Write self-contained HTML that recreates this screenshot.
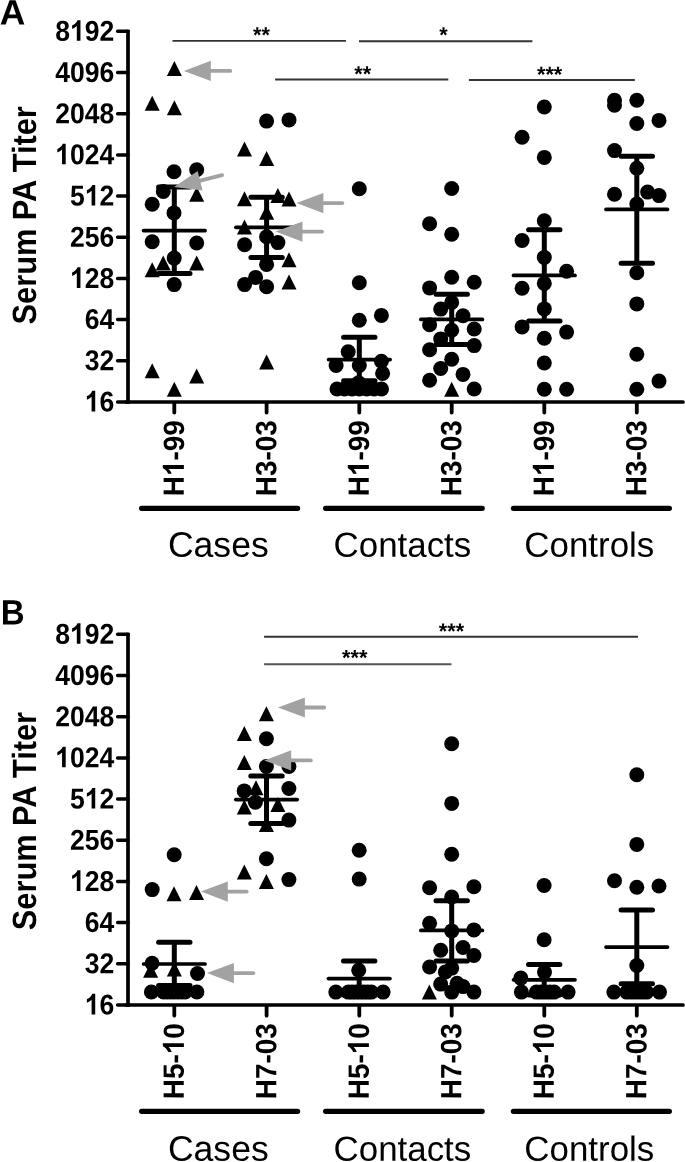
<!DOCTYPE html>
<html><head><meta charset="utf-8"><title>Figure</title>
<style>html,body{margin:0;padding:0;background:#fff}svg{display:block;will-change:transform;filter:grayscale(1)}text{font-family:"Liberation Sans",sans-serif;fill:#000}</style>
</head><body>
<svg width="685" height="1162" viewBox="0 0 685 1162">
<rect width="685" height="1162" fill="#fff"/>
<text transform="translate(-0.2 24.5) rotate(0.05) scale(1.0 1)" font-weight="bold" font-size="35.4">A</text>
<g stroke="#000" stroke-width="3.7" fill="none">
<path d="M128 29.7V403.9"/>
<path d="M126.3 402.0H683.0" stroke-linecap="round"/>
<path d="M117.6 31.3H128M117.6 72.5H128M117.6 113.7H128M117.6 154.9H128M117.6 196.1H128M117.6 237.2H128M117.6 278.4H128M117.6 319.6H128M117.6 360.8H128M117.6 402.0H128" stroke-width="3.5" stroke-linecap="round"/>
<path d="M174.3 403.5V412.6M266.6 403.5V412.6M359.3 403.5V412.6M451.7 403.5V412.6M544.3 403.5V412.6M636.8 403.5V412.6" stroke-width="3.8" stroke-linecap="round"/>
</g>
<g transform="translate(114.30 40.80) rotate(0.05) scale(0.925 1)" font-weight="bold" font-size="28.7">
<text x="-63.85 -31.92 -15.96">892</text>
<path transform="translate(-47.88 0) scale(0.01401 -0.01401)" d="M806 0H525V1059Q371 915 162 846V1101Q272 1137 401 1237.5Q530 1338 578 1472H806Z"/>
</g>
<g transform="translate(114.30 81.99) rotate(0.05) scale(0.925 1)" font-weight="bold" font-size="28.7">
<text x="-63.85 -47.88 -31.92 -15.96">4096</text>
</g>
<g transform="translate(114.30 123.18) rotate(0.05) scale(0.925 1)" font-weight="bold" font-size="28.7">
<text x="-63.85 -47.88 -31.92 -15.96">2048</text>
</g>
<g transform="translate(114.30 164.37) rotate(0.05) scale(0.925 1)" font-weight="bold" font-size="28.7">
<text x="-47.88 -31.92 -15.96">024</text>
<path transform="translate(-63.85 0) scale(0.01401 -0.01401)" d="M806 0H525V1059Q371 915 162 846V1101Q272 1137 401 1237.5Q530 1338 578 1472H806Z"/>
</g>
<g transform="translate(114.30 205.56) rotate(0.05) scale(0.925 1)" font-weight="bold" font-size="28.7">
<text x="-47.88 -15.96">52</text>
<path transform="translate(-31.92 0) scale(0.01401 -0.01401)" d="M806 0H525V1059Q371 915 162 846V1101Q272 1137 401 1237.5Q530 1338 578 1472H806Z"/>
</g>
<g transform="translate(114.30 246.75) rotate(0.05) scale(0.925 1)" font-weight="bold" font-size="28.7">
<text x="-47.88 -31.92 -15.96">256</text>
</g>
<g transform="translate(114.30 287.94) rotate(0.05) scale(0.925 1)" font-weight="bold" font-size="28.7">
<text x="-31.92 -15.96">28</text>
<path transform="translate(-47.88 0) scale(0.01401 -0.01401)" d="M806 0H525V1059Q371 915 162 846V1101Q272 1137 401 1237.5Q530 1338 578 1472H806Z"/>
</g>
<g transform="translate(114.30 329.13) rotate(0.05) scale(0.925 1)" font-weight="bold" font-size="28.7">
<text x="-31.92 -15.96">64</text>
</g>
<g transform="translate(114.30 370.32) rotate(0.05) scale(0.925 1)" font-weight="bold" font-size="28.7">
<text x="-31.92 -15.96">32</text>
</g>
<g transform="translate(114.30 411.51) rotate(0.05) scale(0.925 1)" font-weight="bold" font-size="28.7">
<text x="-15.96">6</text>
<path transform="translate(-31.92 0) scale(0.01401 -0.01401)" d="M806 0H525V1059Q371 915 162 846V1101Q272 1137 401 1237.5Q530 1338 578 1472H806Z"/>
</g>
<text transform="translate(36.0 215.3) rotate(-89.95) scale(0.916 1)" font-weight="bold" font-size="33.6" text-anchor="middle">Serum PA Titer</text>
<g transform="translate(183.85 496.30) rotate(-89.95) scale(0.955 1)" font-weight="bold" font-size="29.3">
<text x="0.00 37.45 47.21 63.51">H-99</text>
<path transform="translate(21.16 0) scale(0.01431 -0.01431)" d="M806 0H525V1059Q371 915 162 846V1101Q272 1137 401 1237.5Q530 1338 578 1472H806Z"/>
</g>
<g transform="translate(276.15 496.30) rotate(-89.95) scale(0.955 1)" font-weight="bold" font-size="29.3">
<text x="0.00 21.16 37.45 47.21 63.51">H3-03</text>
</g>
<g transform="translate(368.85 496.30) rotate(-89.95) scale(0.955 1)" font-weight="bold" font-size="29.3">
<text x="0.00 37.45 47.21 63.51">H-99</text>
<path transform="translate(21.16 0) scale(0.01431 -0.01431)" d="M806 0H525V1059Q371 915 162 846V1101Q272 1137 401 1237.5Q530 1338 578 1472H806Z"/>
</g>
<g transform="translate(461.25 496.30) rotate(-89.95) scale(0.955 1)" font-weight="bold" font-size="29.3">
<text x="0.00 21.16 37.45 47.21 63.51">H3-03</text>
</g>
<g transform="translate(553.85 496.30) rotate(-89.95) scale(0.955 1)" font-weight="bold" font-size="29.3">
<text x="0.00 37.45 47.21 63.51">H-99</text>
<path transform="translate(21.16 0) scale(0.01431 -0.01431)" d="M806 0H525V1059Q371 915 162 846V1101Q272 1137 401 1237.5Q530 1338 578 1472H806Z"/>
</g>
<g transform="translate(646.35 496.30) rotate(-89.95) scale(0.955 1)" font-weight="bold" font-size="29.3">
<text x="0.00 21.16 37.45 47.21 63.51">H3-03</text>
</g>
<path d="M141.6 508.3H297.6M325.6 508.3H482.2M513.4 508.3H669.4" stroke="#000" stroke-width="5.2" stroke-linecap="round" fill="none"/>
<g text-anchor="middle">
<text transform="translate(218.3 556.7) rotate(0.05)" font-size="35.6">Cases</text>
<text transform="translate(402.4 556.7) rotate(0.05)" font-size="34.9">Contacts</text>
<text transform="translate(589.3 556.7) rotate(0.05)" font-size="34.9">Controls</text>
</g>
<path d="M172.5 40.9H346.0" stroke="#333" stroke-width="1.9" fill="none"/>
<text transform="translate(261.5 42.2) rotate(0.05)" font-weight="bold" font-size="21.7" text-anchor="middle">**</text>
<path d="M359.0 41.3H532.4" stroke="#333" stroke-width="1.9" fill="none"/>
<text transform="translate(443.5 42.2) rotate(0.05)" font-weight="bold" font-size="21.7" text-anchor="middle">*</text>
<path d="M275.1 79.5H448.3" stroke="#333" stroke-width="1.9" fill="none"/>
<text transform="translate(362.7 81.2) rotate(0.05)" font-weight="bold" font-size="21.7" text-anchor="middle">**</text>
<path d="M468.9 80.0H634.8" stroke="#333" stroke-width="1.9" fill="none"/>
<text transform="translate(549.6 81.8) rotate(0.05)" font-weight="bold" font-size="21.7" text-anchor="middle">***</text>
<g fill="#000">
<circle cx="174.0" cy="171.8" r="7.5"/>
<circle cx="196.7" cy="169.8" r="7.5"/>
<circle cx="163.3" cy="191.4" r="7.5"/>
<circle cx="152.2" cy="204.2" r="7.5"/>
<circle cx="174.0" cy="212.9" r="7.5"/>
<circle cx="152.2" cy="241.8" r="7.5"/>
<circle cx="196.7" cy="243.0" r="7.5"/>
<circle cx="174.2" cy="258.1" r="7.5"/>
<circle cx="174.2" cy="284.6" r="7.5"/>
<circle cx="266.6" cy="121.1" r="7.5"/>
<circle cx="289.0" cy="119.9" r="7.5"/>
<circle cx="266.6" cy="236.8" r="7.5"/>
<circle cx="244.6" cy="244.8" r="7.5"/>
<circle cx="277.9" cy="242.6" r="7.5"/>
<circle cx="266.6" cy="264.4" r="7.5"/>
<circle cx="255.6" cy="277.4" r="7.5"/>
<circle cx="244.6" cy="284.6" r="7.5"/>
<circle cx="266.6" cy="286.8" r="7.5"/>
<circle cx="359.3" cy="188.7" r="7.5"/>
<circle cx="359.3" cy="282.7" r="7.5"/>
<circle cx="359.3" cy="320.3" r="7.5"/>
<circle cx="381.4" cy="315.4" r="7.5"/>
<circle cx="348.2" cy="351.7" r="7.5"/>
<circle cx="336.1" cy="365.5" r="7.5"/>
<circle cx="359.3" cy="365.5" r="7.5"/>
<circle cx="381.4" cy="361.3" r="7.5"/>
<circle cx="382.6" cy="373.4" r="7.5"/>
<circle cx="358.6" cy="382.8" r="7.5"/>
<circle cx="337.0" cy="389.0" r="7.5"/>
<circle cx="344.5" cy="389.0" r="7.5"/>
<circle cx="352.0" cy="389.0" r="7.5"/>
<circle cx="359.3" cy="389.0" r="7.5"/>
<circle cx="366.7" cy="389.0" r="7.5"/>
<circle cx="374.1" cy="389.0" r="7.5"/>
<circle cx="381.5" cy="389.0" r="7.5"/>
<circle cx="451.7" cy="188.5" r="7.5"/>
<circle cx="429.6" cy="223.8" r="7.5"/>
<circle cx="451.7" cy="234.2" r="7.5"/>
<circle cx="451.7" cy="277.2" r="7.5"/>
<circle cx="474.2" cy="282.2" r="7.5"/>
<circle cx="429.6" cy="287.9" r="7.5"/>
<circle cx="451.7" cy="302.4" r="7.5"/>
<circle cx="440.7" cy="309.1" r="7.5"/>
<circle cx="463.0" cy="315.7" r="7.5"/>
<circle cx="429.6" cy="324.7" r="7.5"/>
<circle cx="451.7" cy="330.3" r="7.5"/>
<circle cx="474.2" cy="329.0" r="7.5"/>
<circle cx="440.7" cy="338.9" r="7.5"/>
<circle cx="474.2" cy="345.6" r="7.5"/>
<circle cx="429.6" cy="349.8" r="7.5"/>
<circle cx="451.7" cy="359.3" r="7.5"/>
<circle cx="440.7" cy="368.5" r="7.5"/>
<circle cx="463.0" cy="374.4" r="7.5"/>
<circle cx="429.6" cy="380.2" r="7.5"/>
<circle cx="474.2" cy="389.0" r="7.5"/>
<circle cx="544.3" cy="107.0" r="7.5"/>
<circle cx="522.1" cy="137.2" r="7.5"/>
<circle cx="544.3" cy="157.4" r="7.5"/>
<circle cx="544.3" cy="220.8" r="7.5"/>
<circle cx="522.1" cy="240.5" r="7.5"/>
<circle cx="544.3" cy="257.4" r="7.5"/>
<circle cx="566.6" cy="271.2" r="7.5"/>
<circle cx="544.3" cy="283.4" r="7.5"/>
<circle cx="522.1" cy="288.3" r="7.5"/>
<circle cx="544.3" cy="308.9" r="7.5"/>
<circle cx="522.1" cy="326.9" r="7.5"/>
<circle cx="566.6" cy="332.1" r="7.5"/>
<circle cx="544.3" cy="338.3" r="7.5"/>
<circle cx="544.3" cy="363.0" r="7.5"/>
<circle cx="544.3" cy="389.2" r="7.5"/>
<circle cx="566.6" cy="389.2" r="7.5"/>
<circle cx="614.5" cy="100.3" r="7.5"/>
<circle cx="614.5" cy="105.3" r="7.5"/>
<circle cx="636.8" cy="100.3" r="7.5"/>
<circle cx="636.8" cy="123.5" r="7.5"/>
<circle cx="659.0" cy="120.4" r="7.5"/>
<circle cx="614.5" cy="150.6" r="7.5"/>
<circle cx="636.8" cy="168.3" r="7.5"/>
<circle cx="614.5" cy="194.3" r="7.5"/>
<circle cx="647.6" cy="192.1" r="7.5"/>
<circle cx="659.0" cy="195.6" r="7.5"/>
<circle cx="636.8" cy="204.0" r="7.5"/>
<circle cx="636.8" cy="272.8" r="7.5"/>
<circle cx="636.8" cy="303.9" r="7.5"/>
<circle cx="636.8" cy="354.3" r="7.5"/>
<circle cx="659.0" cy="381.1" r="7.5"/>
<circle cx="636.8" cy="389.2" r="7.5"/>
<path d="M174.4 61.0L181.9 76.0L166.9 76.0Z"/>
<path d="M152.2 95.7L159.7 110.7L144.7 110.7Z"/>
<path d="M174.4 100.3L181.9 115.3L166.9 115.3Z"/>
<path d="M196.7 186.7L204.2 201.7L189.2 201.7Z"/>
<path d="M152.2 262.3L159.7 277.3L144.7 277.3Z"/>
<path d="M163.2 255.4L170.7 270.4L155.7 270.4Z"/>
<path d="M196.7 255.5L204.2 270.5L189.2 270.5Z"/>
<path d="M152.2 363.2L159.7 378.2L144.7 378.2Z"/>
<path d="M174.3 381.7L181.8 396.7L166.8 396.7Z"/>
<path d="M196.7 368.6L204.2 383.6L189.2 383.6Z"/>
<path d="M244.5 141.4L252.0 156.4L237.0 156.4Z"/>
<path d="M266.6 150.9L274.1 165.9L259.1 165.9Z"/>
<path d="M244.5 191.2L252.0 206.2L237.0 206.2Z"/>
<path d="M277.9 188.1L285.4 203.1L270.4 203.1Z"/>
<path d="M289.0 191.4L296.5 206.4L281.5 206.4Z"/>
<path d="M266.6 204.7L274.1 219.7L259.1 219.7Z"/>
<path d="M244.5 219.5L252.0 234.5L237.0 234.5Z"/>
<path d="M289.0 252.2L296.5 267.2L281.5 267.2Z"/>
<path d="M289.0 274.5L296.5 289.5L281.5 289.5Z"/>
<path d="M266.6 354.4L274.1 369.4L259.1 369.4Z"/>
<path d="M451.7 381.8L459.2 396.8L444.2 396.8Z"/>
</g>
<g stroke="#000" stroke-linecap="round" fill="none">
<path d="M174.3 186.9V273.4" stroke-width="5.0" stroke-linecap="butt"/>
<path d="M158.6 186.9H190.0M158.6 273.4H190.0" stroke-width="5.0"/>
<path d="M143.6 230.6H205.1" stroke-width="3.7"/>
</g>
<g stroke="#000" stroke-linecap="round" fill="none">
<path d="M266.6 197.3V257.4" stroke-width="5.0" stroke-linecap="butt"/>
<path d="M250.9 197.3H282.3M250.9 257.4H282.3" stroke-width="5.0"/>
<path d="M235.9 227.3H297.4" stroke-width="3.7"/>
</g>
<g stroke="#000" stroke-linecap="round" fill="none">
<path d="M359.3 337.3V380.8" stroke-width="5.0" stroke-linecap="butt"/>
<path d="M343.6 337.3H375.0M343.6 380.8H375.0" stroke-width="5.0"/>
<path d="M328.6 359.6H390.1" stroke-width="3.7"/>
</g>
<g stroke="#000" stroke-linecap="round" fill="none">
<path d="M451.7 294.3V344.5" stroke-width="5.0" stroke-linecap="butt"/>
<path d="M436.0 294.3H467.4M436.0 344.5H467.4" stroke-width="5.0"/>
<path d="M420.9 319.4H482.4" stroke-width="3.7"/>
</g>
<g stroke="#000" stroke-linecap="round" fill="none">
<path d="M544.3 229.8V321.0" stroke-width="5.0" stroke-linecap="butt"/>
<path d="M528.6 229.8H560.0M528.6 321.0H560.0" stroke-width="5.0"/>
<path d="M513.5 275.4H575.0" stroke-width="3.7"/>
</g>
<g stroke="#000" stroke-linecap="round" fill="none">
<path d="M636.8 156.2V263.3" stroke-width="5.0" stroke-linecap="butt"/>
<path d="M621.1 156.2H652.5M621.1 263.3H652.5" stroke-width="5.0"/>
<path d="M606.0 209.4H667.5" stroke-width="3.7"/>
</g>
<path d="M183.9 70.9L210.8 81.0L210.8 60.8Z" fill="#a2a2a2"/>
<path d="M209.8 70.9L230.3 70.9" stroke="#a2a2a2" stroke-width="3.8" stroke-linecap="round" fill="none"/>
<path d="M174.0 187.1L202.6 190.5L197.7 170.9Z" fill="#a2a2a2"/>
<path d="M199.2 180.9L222.1 175.2" stroke="#a2a2a2" stroke-width="3.8" stroke-linecap="round" fill="none"/>
<path d="M296.5 203.1L323.4 213.2L323.4 193.0Z" fill="#a2a2a2"/>
<path d="M322.4 203.1L342.4 203.1" stroke="#a2a2a2" stroke-width="3.8" stroke-linecap="round" fill="none"/>
<path d="M275.6 231.6L302.5 241.7L302.5 221.5Z" fill="#a2a2a2"/>
<path d="M301.5 231.6L322.0 231.6" stroke="#a2a2a2" stroke-width="3.8" stroke-linecap="round" fill="none"/>
<text transform="translate(0.65 624.5) rotate(0.05) scale(0.935 1)" font-weight="bold" font-size="35.4">B</text>
<g stroke="#000" stroke-width="3.7" fill="none">
<path d="M128 632.7V1006.9"/>
<path d="M126.3 1005.0H683.0" stroke-linecap="round"/>
<path d="M117.6 634.3H128M117.6 675.5H128M117.6 716.7H128M117.6 757.9H128M117.6 799.1H128M117.6 840.2H128M117.6 881.4H128M117.6 922.6H128M117.6 963.8H128M117.6 1005.0H128" stroke-width="3.5" stroke-linecap="round"/>
<path d="M174.3 1006.5V1015.6M266.6 1006.5V1015.6M359.3 1006.5V1015.6M451.7 1006.5V1015.6M544.3 1006.5V1015.6M636.8 1006.5V1015.6" stroke-width="3.8" stroke-linecap="round"/>
</g>
<g transform="translate(114.30 643.80) rotate(0.05) scale(0.925 1)" font-weight="bold" font-size="28.7">
<text x="-63.85 -31.92 -15.96">892</text>
<path transform="translate(-47.88 0) scale(0.01401 -0.01401)" d="M806 0H525V1059Q371 915 162 846V1101Q272 1137 401 1237.5Q530 1338 578 1472H806Z"/>
</g>
<g transform="translate(114.30 684.99) rotate(0.05) scale(0.925 1)" font-weight="bold" font-size="28.7">
<text x="-63.85 -47.88 -31.92 -15.96">4096</text>
</g>
<g transform="translate(114.30 726.18) rotate(0.05) scale(0.925 1)" font-weight="bold" font-size="28.7">
<text x="-63.85 -47.88 -31.92 -15.96">2048</text>
</g>
<g transform="translate(114.30 767.37) rotate(0.05) scale(0.925 1)" font-weight="bold" font-size="28.7">
<text x="-47.88 -31.92 -15.96">024</text>
<path transform="translate(-63.85 0) scale(0.01401 -0.01401)" d="M806 0H525V1059Q371 915 162 846V1101Q272 1137 401 1237.5Q530 1338 578 1472H806Z"/>
</g>
<g transform="translate(114.30 808.56) rotate(0.05) scale(0.925 1)" font-weight="bold" font-size="28.7">
<text x="-47.88 -15.96">52</text>
<path transform="translate(-31.92 0) scale(0.01401 -0.01401)" d="M806 0H525V1059Q371 915 162 846V1101Q272 1137 401 1237.5Q530 1338 578 1472H806Z"/>
</g>
<g transform="translate(114.30 849.75) rotate(0.05) scale(0.925 1)" font-weight="bold" font-size="28.7">
<text x="-47.88 -31.92 -15.96">256</text>
</g>
<g transform="translate(114.30 890.94) rotate(0.05) scale(0.925 1)" font-weight="bold" font-size="28.7">
<text x="-31.92 -15.96">28</text>
<path transform="translate(-47.88 0) scale(0.01401 -0.01401)" d="M806 0H525V1059Q371 915 162 846V1101Q272 1137 401 1237.5Q530 1338 578 1472H806Z"/>
</g>
<g transform="translate(114.30 932.13) rotate(0.05) scale(0.925 1)" font-weight="bold" font-size="28.7">
<text x="-31.92 -15.96">64</text>
</g>
<g transform="translate(114.30 973.32) rotate(0.05) scale(0.925 1)" font-weight="bold" font-size="28.7">
<text x="-31.92 -15.96">32</text>
</g>
<g transform="translate(114.30 1014.51) rotate(0.05) scale(0.925 1)" font-weight="bold" font-size="28.7">
<text x="-15.96">6</text>
<path transform="translate(-31.92 0) scale(0.01401 -0.01401)" d="M806 0H525V1059Q371 915 162 846V1101Q272 1137 401 1237.5Q530 1338 578 1472H806Z"/>
</g>
<text transform="translate(36.0 821.1) rotate(-89.95) scale(0.916 1)" font-weight="bold" font-size="33.6" text-anchor="middle">Serum PA Titer</text>
<g transform="translate(183.85 1099.30) rotate(-89.95) scale(0.955 1)" font-weight="bold" font-size="29.3">
<text x="0.00 21.16 37.45 63.51">H5-0</text>
<path transform="translate(47.21 0) scale(0.01431 -0.01431)" d="M806 0H525V1059Q371 915 162 846V1101Q272 1137 401 1237.5Q530 1338 578 1472H806Z"/>
</g>
<g transform="translate(276.15 1099.30) rotate(-89.95) scale(0.955 1)" font-weight="bold" font-size="29.3">
<text x="0.00 21.16 37.45 47.21 63.51">H7-03</text>
</g>
<g transform="translate(368.85 1099.30) rotate(-89.95) scale(0.955 1)" font-weight="bold" font-size="29.3">
<text x="0.00 21.16 37.45 63.51">H5-0</text>
<path transform="translate(47.21 0) scale(0.01431 -0.01431)" d="M806 0H525V1059Q371 915 162 846V1101Q272 1137 401 1237.5Q530 1338 578 1472H806Z"/>
</g>
<g transform="translate(461.25 1099.30) rotate(-89.95) scale(0.955 1)" font-weight="bold" font-size="29.3">
<text x="0.00 21.16 37.45 47.21 63.51">H7-03</text>
</g>
<g transform="translate(553.85 1099.30) rotate(-89.95) scale(0.955 1)" font-weight="bold" font-size="29.3">
<text x="0.00 21.16 37.45 63.51">H5-0</text>
<path transform="translate(47.21 0) scale(0.01431 -0.01431)" d="M806 0H525V1059Q371 915 162 846V1101Q272 1137 401 1237.5Q530 1338 578 1472H806Z"/>
</g>
<g transform="translate(646.35 1099.30) rotate(-89.95) scale(0.955 1)" font-weight="bold" font-size="29.3">
<text x="0.00 21.16 37.45 47.21 63.51">H7-03</text>
</g>
<path d="M141.6 1111.3H297.6M325.6 1111.3H482.2M513.4 1111.3H669.4" stroke="#000" stroke-width="5.2" stroke-linecap="round" fill="none"/>
<g text-anchor="middle">
<text transform="translate(218.3 1160.8) rotate(0.05)" font-size="35.6">Cases</text>
<text transform="translate(402.4 1160.8) rotate(0.05)" font-size="34.9">Contacts</text>
<text transform="translate(589.3 1160.8) rotate(0.05)" font-size="34.9">Controls</text>
</g>
<path d="M264.1 636.8H638.0" stroke="#333" stroke-width="1.9" fill="none"/>
<text transform="translate(451.5 638.5) rotate(0.05)" font-weight="bold" font-size="21.7" text-anchor="middle">***</text>
<path d="M264.1 664.3H451.5" stroke="#555" stroke-width="1.9" fill="none"/>
<text transform="translate(354.7 664.9) rotate(0.05)" font-weight="bold" font-size="21.7" text-anchor="middle">***</text>
<g fill="#000">
<circle cx="174.2" cy="854.8" r="7.5"/>
<circle cx="152.2" cy="889.6" r="7.5"/>
<circle cx="152.1" cy="963.3" r="7.5"/>
<circle cx="197.5" cy="973.5" r="7.5"/>
<circle cx="151.4" cy="992.0" r="7.5"/>
<circle cx="163.6" cy="992.0" r="7.5"/>
<circle cx="167.2" cy="992.0" r="7.5"/>
<circle cx="170.8" cy="992.0" r="7.5"/>
<circle cx="174.3" cy="992.0" r="7.5"/>
<circle cx="177.9" cy="992.0" r="7.5"/>
<circle cx="181.5" cy="992.0" r="7.5"/>
<circle cx="185.0" cy="992.0" r="7.5"/>
<circle cx="196.9" cy="992.0" r="7.5"/>
<circle cx="266.4" cy="738.7" r="7.5"/>
<circle cx="266.4" cy="766.5" r="7.5"/>
<circle cx="288.9" cy="766.5" r="7.5"/>
<circle cx="244.2" cy="790.9" r="7.5"/>
<circle cx="288.9" cy="788.5" r="7.5"/>
<circle cx="255.4" cy="802.3" r="7.5"/>
<circle cx="288.9" cy="820.1" r="7.5"/>
<circle cx="266.4" cy="858.7" r="7.5"/>
<circle cx="288.9" cy="879.6" r="7.5"/>
<circle cx="359.2" cy="850.2" r="7.5"/>
<circle cx="359.2" cy="879.1" r="7.5"/>
<circle cx="358.7" cy="970.2" r="7.5"/>
<circle cx="335.8" cy="992.1" r="7.5"/>
<circle cx="348.4" cy="992.1" r="7.5"/>
<circle cx="352.2" cy="992.1" r="7.5"/>
<circle cx="356.0" cy="992.1" r="7.5"/>
<circle cx="359.8" cy="992.1" r="7.5"/>
<circle cx="363.7" cy="992.1" r="7.5"/>
<circle cx="367.5" cy="992.1" r="7.5"/>
<circle cx="371.3" cy="992.1" r="7.5"/>
<circle cx="383.1" cy="992.1" r="7.5"/>
<circle cx="451.7" cy="743.8" r="7.5"/>
<circle cx="451.7" cy="803.4" r="7.5"/>
<circle cx="451.7" cy="854.3" r="7.5"/>
<circle cx="429.6" cy="887.7" r="7.5"/>
<circle cx="473.9" cy="886.8" r="7.5"/>
<circle cx="451.7" cy="897.0" r="7.5"/>
<circle cx="429.6" cy="923.3" r="7.5"/>
<circle cx="451.7" cy="930.9" r="7.5"/>
<circle cx="473.9" cy="929.9" r="7.5"/>
<circle cx="440.7" cy="950.2" r="7.5"/>
<circle cx="463.0" cy="947.5" r="7.5"/>
<circle cx="473.9" cy="955.5" r="7.5"/>
<circle cx="429.6" cy="967.0" r="7.5"/>
<circle cx="451.7" cy="968.1" r="7.5"/>
<circle cx="445.4" cy="972.0" r="7.5"/>
<circle cx="440.7" cy="984.1" r="7.5"/>
<circle cx="457.1" cy="983.2" r="7.5"/>
<circle cx="463.0" cy="986.6" r="7.5"/>
<circle cx="451.7" cy="992.1" r="7.5"/>
<circle cx="473.9" cy="992.1" r="7.5"/>
<circle cx="544.1" cy="885.5" r="7.5"/>
<circle cx="544.1" cy="939.7" r="7.5"/>
<circle cx="544.5" cy="972.1" r="7.5"/>
<circle cx="520.8" cy="978.1" r="7.5"/>
<circle cx="521.4" cy="992.1" r="7.5"/>
<circle cx="536.4" cy="992.1" r="7.5"/>
<circle cx="540.8" cy="992.1" r="7.5"/>
<circle cx="545.2" cy="992.1" r="7.5"/>
<circle cx="549.7" cy="992.1" r="7.5"/>
<circle cx="554.1" cy="992.1" r="7.5"/>
<circle cx="568.1" cy="992.1" r="7.5"/>
<circle cx="636.8" cy="774.7" r="7.5"/>
<circle cx="636.8" cy="844.4" r="7.5"/>
<circle cx="614.5" cy="880.7" r="7.5"/>
<circle cx="636.8" cy="887.2" r="7.5"/>
<circle cx="659.0" cy="886.0" r="7.5"/>
<circle cx="636.8" cy="965.5" r="7.5"/>
<circle cx="613.9" cy="992.1" r="7.5"/>
<circle cx="626.8" cy="992.1" r="7.5"/>
<circle cx="631.8" cy="992.1" r="7.5"/>
<circle cx="636.7" cy="992.1" r="7.5"/>
<circle cx="641.7" cy="992.1" r="7.5"/>
<circle cx="646.6" cy="992.1" r="7.5"/>
<circle cx="659.5" cy="992.1" r="7.5"/>
<path d="M174.0 886.2L181.5 901.2L166.5 901.2Z"/>
<path d="M196.5 884.9L204.0 899.9L189.0 899.9Z"/>
<path d="M150.6 962.7L158.1 977.7L143.1 977.7Z"/>
<path d="M174.4 961.5L181.9 976.5L166.9 976.5Z"/>
<path d="M266.4 706.3L273.9 721.3L258.9 721.3Z"/>
<path d="M244.3 726.0L251.8 741.0L236.8 741.0Z"/>
<path d="M244.3 754.9L251.8 769.9L236.8 769.9Z"/>
<path d="M256.0 780.2L263.5 795.2L248.5 795.2Z"/>
<path d="M244.3 799.5L251.8 814.5L236.8 814.5Z"/>
<path d="M277.9 796.9L285.4 811.9L270.4 811.9Z"/>
<path d="M266.4 817.1L273.9 832.1L258.9 832.1Z"/>
<path d="M244.3 864.5L251.8 879.5L236.8 879.5Z"/>
<path d="M266.4 874.0L273.9 889.0L258.9 889.0Z"/>
<path d="M429.4 984.4L436.9 999.4L421.9 999.4Z"/>
</g>
<g stroke="#000" stroke-linecap="round" fill="none">
<path d="M174.3 942.2V985.4" stroke-width="5.0" stroke-linecap="butt"/>
<path d="M158.6 942.2H190.0M158.6 985.4H190.0" stroke-width="5.0"/>
<path d="M143.6 964.0H205.1" stroke-width="3.7"/>
</g>
<g stroke="#000" stroke-linecap="round" fill="none">
<path d="M266.5 776.1V823.4" stroke-width="5.0" stroke-linecap="butt"/>
<path d="M250.8 776.1H282.2M250.8 823.4H282.2" stroke-width="5.0"/>
<path d="M235.8 799.6H297.2" stroke-width="3.7"/>
</g>
<g stroke="#000" stroke-linecap="round" fill="none">
<path d="M359.2 961.0V995.0" stroke-width="5.0" stroke-linecap="butt"/>
<path d="M343.5 961.0H374.9M343.5 995.0H374.9" stroke-width="5.0"/>
<path d="M328.4 978.6H389.9" stroke-width="3.7"/>
</g>
<g stroke="#000" stroke-linecap="round" fill="none">
<path d="M451.7 900.7V961.1" stroke-width="5.0" stroke-linecap="butt"/>
<path d="M436.0 900.7H467.4M436.0 961.1H467.4" stroke-width="5.0"/>
<path d="M420.9 930.4H482.4" stroke-width="3.7"/>
</g>
<g stroke="#000" stroke-linecap="round" fill="none">
<path d="M544.2 964.4V995.0" stroke-width="5.0" stroke-linecap="butt"/>
<path d="M528.5 964.4H559.9M528.5 995.0H559.9" stroke-width="5.0"/>
<path d="M513.5 979.8H575.0" stroke-width="3.7"/>
</g>
<g stroke="#000" stroke-linecap="round" fill="none">
<path d="M636.8 910.0V983.7" stroke-width="5.0" stroke-linecap="butt"/>
<path d="M621.1 910.0H652.5M621.1 983.7H652.5" stroke-width="5.0"/>
<path d="M606.0 947.1H667.5" stroke-width="3.7"/>
</g>
<path d="M278.0 707.5L304.9 717.6L304.9 697.4Z" fill="#a2a2a2"/>
<path d="M303.9 707.5L324.2 707.5" stroke="#a2a2a2" stroke-width="3.8" stroke-linecap="round" fill="none"/>
<path d="M264.3 760.4L291.2 770.5L291.2 750.3Z" fill="#a2a2a2"/>
<path d="M290.2 760.4L310.8 760.4" stroke="#a2a2a2" stroke-width="3.8" stroke-linecap="round" fill="none"/>
<path d="M200.9 891.6L227.8 901.7L227.8 881.5Z" fill="#a2a2a2"/>
<path d="M226.8 891.6L246.7 891.6" stroke="#a2a2a2" stroke-width="3.8" stroke-linecap="round" fill="none"/>
<path d="M207.0 973.1L233.9 983.2L233.9 963.0Z" fill="#a2a2a2"/>
<path d="M232.9 973.1L253.4 973.1" stroke="#a2a2a2" stroke-width="3.8" stroke-linecap="round" fill="none"/>
</svg>
</body></html>
